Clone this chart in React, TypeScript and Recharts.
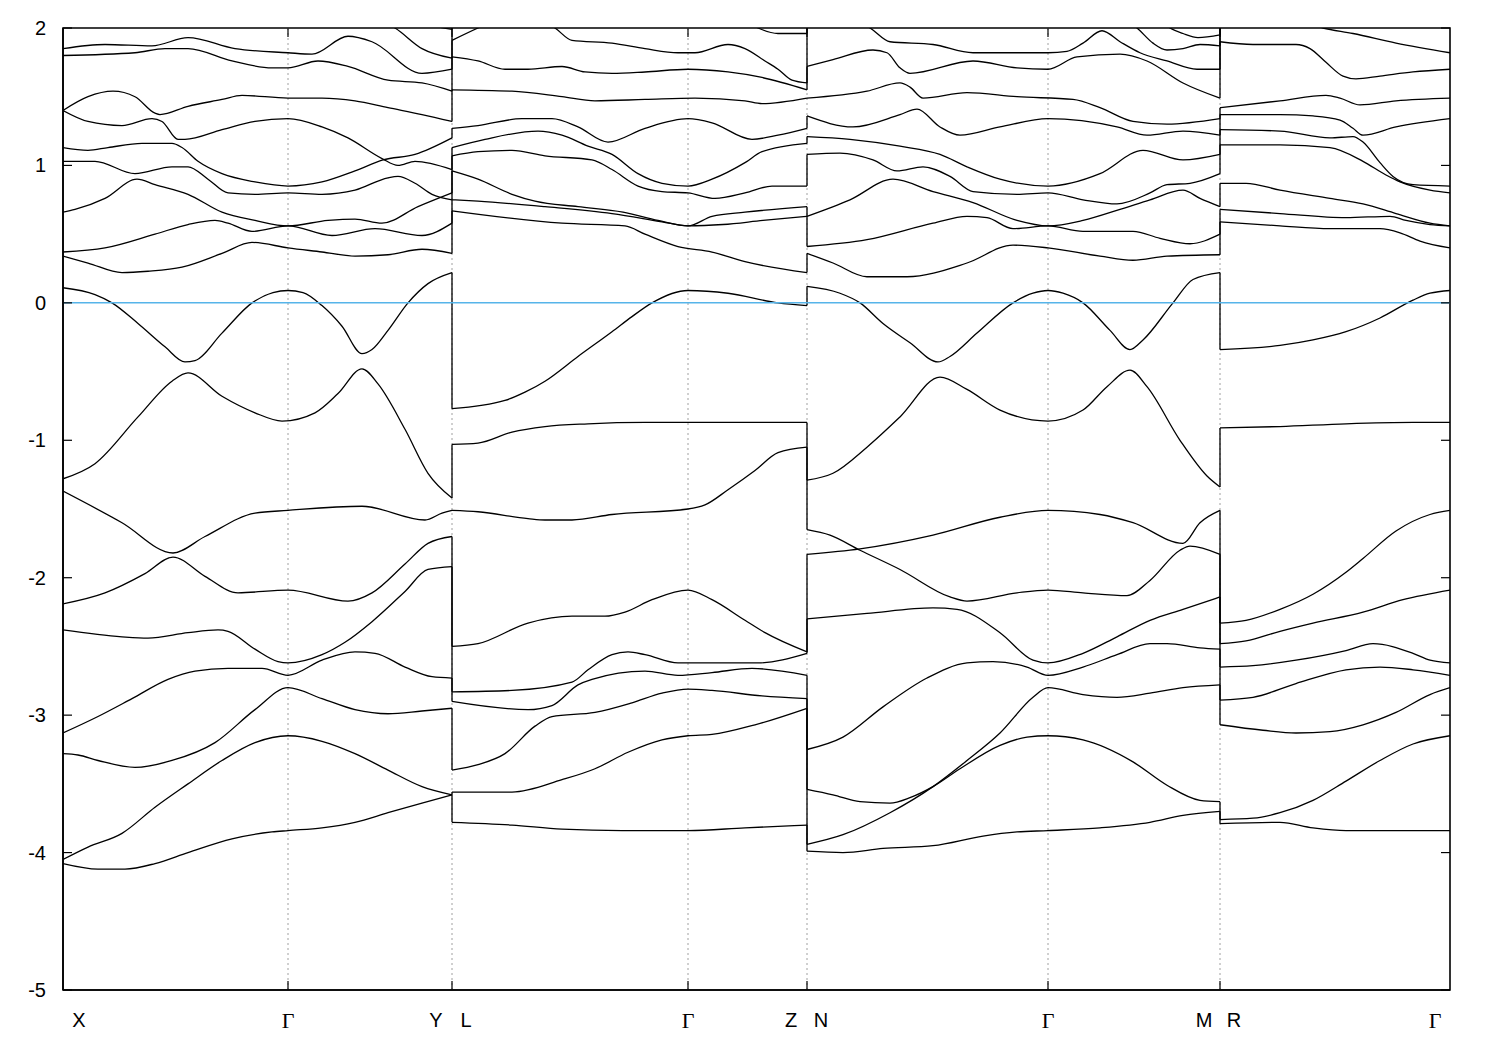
import { LineChart, Line, XAxis, YAxis, ReferenceLine, ReferenceArea } from "recharts";

type Pt = [number, number];

// k-path positions of the high-symmetry points and their labels ("a|b" = two labels at a break)
const K_TICKS = [0, 225, 389, 625, 744, 985, 1157, 1387];
const K_LABELS = ["X", "Γ", "Y|L", "Γ", "Z|N", "Γ", "M|R", "Γ"];
const E_TICKS = [2, 1, 0, -1, -2, -3, -4, -5];
const E_MIN = -5;
const E_MAX = 2;

// X - Γ - Y   (each band: [k, energy eV])
const BANDS_XGY: Pt[][] = [
  [[0, -4.08], [35, -4.12], [62, -4.12], [92, -4.08], [125, -4.0], [169, -3.9], [209, -3.85], [225, -3.84], [259, -3.82], [292, -3.78], [325, -3.71], [359, -3.64], [389, -3.58]],
  [[0, -4.05], [25, -3.96], [59, -3.86], [92, -3.67], [125, -3.5], [159, -3.33], [192, -3.2], [225, -3.15], [259, -3.19], [292, -3.28], [325, -3.4], [359, -3.52], [389, -3.58]],
  [[0, -3.28], [15, -3.29], [35, -3.33], [72, -3.38], [109, -3.33], [152, -3.2], [192, -2.96], [225, -2.8], [259, -2.88], [292, -2.96], [325, -2.99], [359, -2.97], [389, -2.95]],
  [[0, -3.13], [35, -3.01], [69, -2.88], [105, -2.74], [132, -2.68], [165, -2.66], [199, -2.66], [225, -2.71], [259, -2.6], [292, -2.54], [312, -2.55], [342, -2.65], [369, -2.72], [389, -2.73]],
  [[0, -2.38], [59, -2.43], [85, -2.44], [125, -2.4], [155, -2.38], [165, -2.39], [192, -2.52], [215, -2.61], [225, -2.62], [259, -2.56], [282, -2.47], [309, -2.32], [342, -2.1], [365, -1.94], [389, -1.92]],
  [[0, -2.19], [42, -2.11], [82, -1.97], [110, -1.85], [142, -1.99], [175, -2.11], [225, -2.09], [285, -2.17], [309, -2.11], [342, -1.9], [365, -1.75], [389, -1.7]],
  [[0, -1.37], [59, -1.6], [110, -1.82], [142, -1.7], [192, -1.53], [225, -1.51], [299, -1.48], [362, -1.58], [379, -1.53], [389, -1.51]],
  [[0, -1.28], [32, -1.17], [75, -0.83], [109, -0.57], [125, -0.51], [159, -0.68], [192, -0.8], [219, -0.86], [252, -0.8], [275, -0.66], [299, -0.48], [315, -0.59], [342, -0.92], [365, -1.24], [389, -1.42]],
  [[0, 0.11], [32, 0.06], [49, 0.0], [75, -0.15], [102, -0.32], [122, -0.43], [132, -0.42], [159, -0.22], [189, 0.0], [210, 0.075], [225, 0.09], [240, 0.075], [259, -0.02], [279, -0.17], [299, -0.37], [309, -0.34], [325, -0.2], [345, 0.0], [365, 0.14], [389, 0.22]],
  [[0, 0.34], [25, 0.29], [59, 0.22], [85, 0.23], [119, 0.26], [159, 0.36], [189, 0.44], [225, 0.4], [259, 0.37], [292, 0.34], [325, 0.35], [359, 0.39], [389, 0.36]],
  [[0, 0.37], [42, 0.4], [92, 0.5], [125, 0.57], [152, 0.6], [165, 0.58], [189, 0.52], [225, 0.56], [269, 0.49], [312, 0.54], [359, 0.49], [389, 0.58]],
  [[0, 0.66], [12, 0.68], [42, 0.76], [74, 0.9], [92, 0.86], [125, 0.79], [159, 0.66], [192, 0.6], [225, 0.56], [265, 0.6], [292, 0.61], [319, 0.58], [355, 0.7], [389, 0.8]],
  [[0, 1.03], [32, 1.03], [72, 0.94], [109, 0.99], [125, 0.99], [145, 0.9], [165, 0.8], [192, 0.79], [225, 0.8], [259, 0.79], [292, 0.82], [325, 0.91], [335, 0.92], [352, 0.87], [369, 0.79], [389, 0.75]],
  [[0, 1.13], [25, 1.11], [45, 1.13], [79, 1.16], [109, 1.16], [119, 1.13], [135, 1.03], [159, 0.94], [192, 0.88], [225, 0.85], [259, 0.88], [292, 0.96], [320, 1.04], [352, 1.08], [389, 1.2]],
  [[0, 1.4], [25, 1.32], [59, 1.29], [89, 1.34], [99, 1.32], [115, 1.19], [122, 1.19], [159, 1.26], [192, 1.32], [225, 1.34], [259, 1.28], [285, 1.2], [319, 1.05], [335, 1.0], [352, 1.03], [389, 0.97]],
  [[0, 1.4], [25, 1.5], [50, 1.54], [72, 1.5], [92, 1.38], [97, 1.37], [125, 1.43], [159, 1.48], [179, 1.51], [225, 1.49], [259, 1.49], [292, 1.47], [325, 1.42], [359, 1.37], [389, 1.32]],
  [[0, 1.8], [72, 1.82], [102, 1.85], [125, 1.85], [169, 1.76], [209, 1.71], [225, 1.71], [255, 1.76], [285, 1.72], [325, 1.62], [359, 1.6], [389, 1.54]],
  [[0, 1.85], [42, 1.88], [89, 1.87], [125, 1.93], [172, 1.85], [225, 1.82], [249, 1.81], [285, 1.94], [309, 1.9], [359, 1.67], [389, 1.7]],
  [[0, 2.3], [300, 2.1], [332, 2.0], [359, 1.85], [389, 1.78]],
  [[0, 2.4], [340, 2.15], [370, 2.02], [389, 1.99]],
];

// L - Γ - Z
const BANDS_LGZ: Pt[][] = [
  [[389, -3.78], [449, -3.8], [499, -3.83], [559, -3.84], [625, -3.84], [682, -3.82], [744, -3.8]],
  [[389, -3.56], [449, -3.56], [499, -3.47], [532, -3.39], [565, -3.27], [599, -3.18], [625, -3.15], [649, -3.14], [692, -3.07], [744, -2.95]],
  [[389, -3.4], [415, -3.36], [442, -3.28], [472, -3.08], [489, -3.01], [532, -2.98], [569, -2.91], [599, -2.84], [625, -2.81], [649, -2.82], [699, -2.86], [744, -2.88]],
  [[389, -2.9], [465, -2.96], [489, -2.93], [515, -2.78], [529, -2.74], [582, -2.68], [615, -2.71], [649, -2.69], [689, -2.66], [744, -2.71]],
  [[389, -2.83], [449, -2.82], [509, -2.76], [525, -2.67], [549, -2.56], [565, -2.54], [582, -2.56], [615, -2.62], [649, -2.62], [695, -2.62], [744, -2.55]],
  [[389, -2.5], [415, -2.48], [465, -2.33], [509, -2.28], [542, -2.28], [562, -2.25], [589, -2.16], [625, -2.09], [649, -2.16], [682, -2.31], [702, -2.4], [744, -2.54]],
  [[389, -1.51], [415, -1.52], [465, -1.57], [482, -1.58], [509, -1.58], [549, -1.54], [625, -1.5], [642, -1.47], [665, -1.36], [692, -1.22], [715, -1.09], [744, -1.05]],
  [[389, -1.03], [415, -1.02], [449, -0.94], [482, -0.9], [525, -0.88], [582, -0.87], [625, -0.87], [695, -0.87], [744, -0.87]],
  [[389, -0.77], [442, -0.71], [462, -0.65], [482, -0.57], [515, -0.39], [549, -0.21], [569, -0.1], [589, 0.0], [625, 0.09], [665, 0.07], [715, 0.0], [744, -0.02]],
  [[389, 0.67], [499, 0.58], [562, 0.56], [582, 0.5], [615, 0.41], [649, 0.37], [682, 0.3], [744, 0.22]],
  [[389, 0.75], [415, 0.74], [482, 0.7], [549, 0.65], [599, 0.59], [625, 0.56], [660, 0.57], [700, 0.6], [744, 0.63]],
  [[389, 0.96], [415, 0.9], [449, 0.79], [472, 0.74], [515, 0.7], [560, 0.66], [595, 0.6], [625, 0.56], [649, 0.63], [682, 0.66], [744, 0.7]],
  [[389, 1.07], [415, 1.1], [449, 1.11], [482, 1.07], [529, 1.04], [549, 0.97], [575, 0.85], [599, 0.81], [625, 0.8], [652, 0.76], [682, 0.8], [709, 0.85], [744, 0.85]],
  [[389, 1.13], [422, 1.19], [475, 1.25], [499, 1.22], [525, 1.14], [549, 1.08], [575, 0.94], [599, 0.87], [625, 0.85], [649, 0.9], [682, 1.02], [699, 1.1], [744, 1.16]],
  [[389, 1.27], [415, 1.29], [459, 1.34], [489, 1.34], [515, 1.28], [545, 1.17], [582, 1.27], [625, 1.34], [649, 1.31], [689, 1.19], [715, 1.22], [744, 1.27]],
  [[389, 1.55], [449, 1.54], [499, 1.5], [532, 1.47], [582, 1.48], [632, 1.49], [682, 1.47], [699, 1.45], [744, 1.49]],
  [[389, 1.79], [415, 1.76], [442, 1.7], [465, 1.7], [499, 1.72], [522, 1.68], [549, 1.67], [582, 1.68], [625, 1.7], [665, 1.68], [699, 1.64], [744, 1.55]],
  [[389, 1.91], [415, 2.0], [440, 2.08], [744, 2.3]],
  [[389, 2.3], [470, 2.08], [492, 2.0], [509, 1.91], [549, 1.89], [582, 1.85], [615, 1.82], [632, 1.82], [665, 1.88], [682, 1.85], [702, 1.76], [715, 1.7], [729, 1.62], [744, 1.6]],
  [[389, 2.4], [680, 2.06], [695, 2.0], [715, 1.96], [744, 1.96]],
];

// N - Γ - M
const BANDS_NGM: Pt[][] = [
  [[744, -3.99], [780, -4.0], [820, -3.97], [870, -3.95], [920, -3.88], [954, -3.85], [985, -3.84], [1037, -3.82], [1087, -3.78], [1120, -3.73], [1157, -3.7]],
  [[744, -3.94], [780, -3.87], [827, -3.71], [870, -3.52], [904, -3.33], [937, -3.13], [970, -2.87], [985, -2.8], [1020, -2.85], [1054, -2.87], [1087, -2.84], [1120, -2.8], [1157, -2.78]],
  [[744, -3.54], [770, -3.58], [797, -3.63], [827, -3.64], [847, -3.6], [870, -3.52], [897, -3.39], [937, -3.22], [964, -3.16], [985, -3.15], [1020, -3.18], [1070, -3.34], [1104, -3.51], [1137, -3.62], [1157, -3.63]],
  [[744, -3.25], [780, -3.16], [820, -2.94], [864, -2.73], [904, -2.62], [930, -2.61], [964, -2.65], [985, -2.71], [1020, -2.65], [1054, -2.56], [1087, -2.48], [1104, -2.48], [1137, -2.51], [1157, -2.52]],
  [[744, -2.3], [804, -2.26], [870, -2.22], [894, -2.23], [937, -2.4], [970, -2.6], [985, -2.62], [1020, -2.55], [1054, -2.43], [1087, -2.31], [1120, -2.23], [1157, -2.14]],
  [[744, -1.65], [767, -1.69], [797, -1.8], [837, -1.94], [887, -2.14], [904, -2.17], [954, -2.11], [985, -2.09], [1020, -2.11], [1064, -2.13], [1087, -2.02], [1117, -1.8], [1127, -1.77], [1157, -1.83]],
  [[744, -1.83], [797, -1.79], [870, -1.69], [937, -1.56], [985, -1.51], [1037, -1.54], [1070, -1.6], [1120, -1.75], [1137, -1.6], [1157, -1.51]],
  [[744, -1.29], [770, -1.24], [804, -1.05], [837, -0.83], [877, -0.54], [904, -0.63], [937, -0.78], [985, -0.86], [1020, -0.78], [1044, -0.61], [1067, -0.49], [1084, -0.61], [1117, -1.0], [1144, -1.26], [1157, -1.34]],
  [[744, 0.12], [777, 0.07], [797, 0.0], [820, -0.15], [847, -0.29], [875, -0.43], [887, -0.39], [914, -0.22], [950, 0.0], [970, 0.07], [985, 0.09], [1000, 0.07], [1020, 0.0], [1047, -0.2], [1067, -0.34], [1080, -0.27], [1110, 0.0], [1130, 0.17], [1157, 0.22]],
  [[744, 0.36], [770, 0.29], [804, 0.19], [844, 0.19], [904, 0.29], [950, 0.42], [985, 0.4], [1037, 0.34], [1070, 0.31], [1104, 0.34], [1157, 0.35]],
  [[744, 0.41], [804, 0.46], [870, 0.58], [904, 0.63], [924, 0.62], [950, 0.54], [985, 0.56], [1020, 0.52], [1070, 0.52], [1097, 0.47], [1127, 0.43], [1157, 0.5]],
  [[744, 0.63], [787, 0.75], [830, 0.9], [870, 0.81], [910, 0.73], [954, 0.6], [985, 0.56], [1020, 0.6], [1057, 0.68], [1087, 0.75], [1120, 0.82], [1137, 0.76], [1157, 0.7]],
  [[744, 1.08], [777, 1.09], [810, 1.04], [834, 0.96], [860, 0.99], [887, 0.92], [910, 0.81], [954, 0.79], [985, 0.8], [1020, 0.75], [1054, 0.72], [1087, 0.8], [1104, 0.86], [1127, 0.87], [1157, 0.94]],
  [[744, 1.21], [787, 1.19], [837, 1.14], [877, 1.08], [904, 0.99], [937, 0.9], [985, 0.85], [1037, 0.94], [1080, 1.11], [1120, 1.04], [1157, 1.08]],
  [[744, 1.36], [790, 1.28], [837, 1.37], [854, 1.41], [877, 1.28], [897, 1.22], [937, 1.28], [985, 1.34], [1054, 1.28], [1084, 1.22], [1120, 1.25], [1157, 1.22]],
  [[744, 1.49], [804, 1.54], [837, 1.6], [847, 1.57], [860, 1.49], [904, 1.53], [954, 1.5], [1010, 1.48], [1037, 1.42], [1070, 1.32], [1104, 1.3], [1157, 1.34]],
  [[744, 1.72], [770, 1.77], [810, 1.84], [824, 1.82], [837, 1.71], [847, 1.67], [910, 1.76], [954, 1.71], [985, 1.7], [1014, 1.79], [1057, 1.81], [1084, 1.76], [1120, 1.6], [1157, 1.49]],
  [[744, 2.2], [790, 2.06], [807, 2.0], [827, 1.9], [870, 1.88], [910, 1.82], [937, 1.82], [985, 1.82], [1004, 1.83], [1020, 1.89], [1039, 1.98], [1057, 1.9], [1077, 1.82], [1104, 1.76], [1134, 1.7], [1157, 1.7]],
  [[744, 2.3], [1050, 2.1], [1074, 2.0], [1090, 1.89], [1104, 1.84], [1120, 1.85], [1137, 1.88], [1157, 1.87]],
  [[744, 2.4], [1090, 2.1], [1107, 2.0], [1120, 1.96], [1135, 1.93], [1157, 1.95]],
];

// R - Γ
const BANDS_RG: Pt[][] = [
  [[1157, -3.79], [1217, -3.78], [1250, -3.82], [1283, -3.84], [1317, -3.84], [1387, -3.84]],
  [[1157, -3.76], [1190, -3.75], [1217, -3.71], [1250, -3.62], [1283, -3.48], [1317, -3.33], [1350, -3.21], [1387, -3.15]],
  [[1157, -3.07], [1200, -3.11], [1233, -3.13], [1267, -3.12], [1300, -3.07], [1333, -2.98], [1367, -2.85], [1387, -2.8]],
  [[1157, -2.89], [1190, -2.87], [1233, -2.77], [1283, -2.67], [1317, -2.65], [1350, -2.67], [1387, -2.71]],
  [[1157, -2.65], [1190, -2.64], [1233, -2.6], [1283, -2.53], [1310, -2.48], [1350, -2.55], [1367, -2.6], [1387, -2.62]],
  [[1157, -2.48], [1183, -2.46], [1217, -2.39], [1250, -2.33], [1300, -2.25], [1340, -2.16], [1387, -2.09]],
  [[1157, -2.33], [1183, -2.31], [1217, -2.23], [1250, -2.12], [1283, -1.96], [1300, -1.86], [1333, -1.66], [1367, -1.54], [1387, -1.51]],
  [[1157, -0.91], [1217, -0.9], [1283, -0.88], [1350, -0.87], [1387, -0.87]],
  [[1157, -0.34], [1217, -0.31], [1250, -0.27], [1283, -0.21], [1317, -0.11], [1350, 0.02], [1367, 0.07], [1387, 0.09]],
  [[1157, 0.59], [1217, 0.56], [1267, 0.54], [1317, 0.54], [1337, 0.51], [1357, 0.45], [1387, 0.4]],
  [[1157, 0.68], [1217, 0.65], [1283, 0.62], [1327, 0.63], [1343, 0.6], [1367, 0.57], [1387, 0.56]],
  [[1157, 0.87], [1183, 0.87], [1217, 0.82], [1267, 0.76], [1300, 0.72], [1333, 0.65], [1367, 0.58], [1387, 0.56]],
  [[1157, 1.15], [1217, 1.15], [1267, 1.13], [1300, 1.03], [1323, 0.93], [1337, 0.88], [1367, 0.82], [1387, 0.8]],
  [[1157, 1.26], [1217, 1.25], [1267, 1.2], [1290, 1.21], [1300, 1.17], [1317, 1.02], [1330, 0.92], [1350, 0.86], [1387, 0.85]],
  [[1157, 1.37], [1217, 1.37], [1250, 1.36], [1277, 1.33], [1290, 1.27], [1300, 1.22], [1333, 1.28], [1387, 1.34]],
  [[1157, 1.42], [1217, 1.47], [1263, 1.51], [1277, 1.49], [1297, 1.44], [1333, 1.47], [1387, 1.49]],
  [[1157, 1.9], [1190, 1.88], [1233, 1.88], [1247, 1.85], [1263, 1.75], [1280, 1.65], [1293, 1.63], [1317, 1.65], [1350, 1.68], [1387, 1.7]],
  [[1157, 2.2], [1240, 2.04], [1260, 2.0], [1290, 1.96], [1333, 1.89], [1387, 1.82]],
];

const SEGMENTS = [BANDS_XGY, BANDS_LGZ, BANDS_NGM, BANDS_RG];
const BREAKS = [389, 744, 1157];

const PLOT = { left: 63, right: 1450, top: 28, bottom: 990 };
const FONT = "'Liberation Sans', Arial, sans-serif";
const SERIF = "'Liberation Serif', 'Times New Roman', serif";

// gnuplot joins band n across a break: sorted end values -> sorted start values
function buildJumps() {
  const out: { k: number; e: number }[][] = [];
  BREAKS.forEach((k, i) => {
    const ends = SEGMENTS[i].map((b) => b[b.length - 1][1]).sort((a, b) => a - b);
    const starts = SEGMENTS[i + 1].map((b) => b[0][1]).sort((a, b) => a - b);
    const n = Math.max(ends.length, starts.length);
    for (let j = 0; j < n; j++) {
      const a = ends[j] ?? E_MAX + 0.5;
      const b = starts[j] ?? E_MAX + 0.5;
      if (a > E_MAX && b > E_MAX) continue;
      out.push([{ k, e: a }, { k, e: b }]);
    }
  });
  return out;
}

function YTick(props: any) {
  const { x, y, payload } = props;
  return (
    <g>
      <line x1={x} x2={x + 9} y1={y} y2={y} stroke="#000" strokeWidth={1.2} />
      <line x1={PLOT.right} x2={PLOT.right - 9} y1={y} y2={y} stroke="#000" strokeWidth={1.2} />
      <text x={x - 17} y={y} textAnchor="end" dominantBaseline="central" fontSize={20} fontFamily={FONT} fill="#000">
        {payload.value}
      </text>
    </g>
  );
}

function XTick(props: any) {
  const { x, y, payload } = props;
  const idx = K_TICKS.indexOf(payload.value);
  const parts = (K_LABELS[idx] ?? "").split("|");
  const inner = idx > 0 && idx < K_TICKS.length - 1;
  const ty = y + 30;
  const txt = (s: string, tx: number) => (
    <text
      key={s + tx}
      x={tx}
      y={ty}
      textAnchor="middle"
      dominantBaseline="central"
      fontSize={s === "Γ" ? 22 : 20}
      fontFamily={s === "Γ" ? SERIF : FONT}
      fill="#000"
    >
      {s}
    </text>
  );
  let labels;
  if (parts.length === 2) labels = [txt(parts[0], x - 16), txt(parts[1], x + 14)];
  else if (idx === 0) labels = [txt(parts[0], x + 16)];
  else if (idx === K_TICKS.length - 1) labels = [txt(parts[0], x - 15)];
  else labels = [txt(parts[0], x)];
  return (
    <g>
      {inner && <line x1={x} x2={x} y1={y} y2={y - 9} stroke="#000" strokeWidth={1.2} />}
      {inner && <line x1={x} x2={x} y1={PLOT.top} y2={PLOT.top + 9} stroke="#000" strokeWidth={1.2} />}
      {labels}
    </g>
  );
}

export default function App() {
  const jumps = buildJumps();
  return (
    <div style={{ position: "absolute", left: 0, top: 0, width: 1500, height: 1050, background: "#fff" }}>
      <LineChart width={1500} height={1050} margin={{ top: PLOT.top, right: 1500 - PLOT.right, bottom: 0, left: 0 }}>
        <XAxis
          dataKey="k"
          type="number"
          domain={[0, 1387]}
          ticks={K_TICKS}
          allowDataOverflow
          height={1050 - PLOT.bottom}
          tickSize={0}
          tickMargin={0}
          tickLine={false}
          axisLine={{ stroke: "#000", strokeWidth: 1.6 }}
          tick={XTick}
          interval={0}
        />
        <YAxis
          type="number"
          domain={[E_MIN, E_MAX]}
          ticks={E_TICKS}
          allowDataOverflow
          width={PLOT.left}
          tickSize={0}
          tickMargin={0}
          tickLine={false}
          axisLine={{ stroke: "#000", strokeWidth: 1.6 }}
          tick={YTick}
          interval={0}
        />
        {K_TICKS.slice(1, -1).map((k) => (
          <ReferenceLine key={"g" + k} x={k} stroke="#a0a0a0" strokeWidth={1} strokeDasharray="2 3" />
        ))}
        {SEGMENTS.flatMap((seg, si) =>
          seg.map((band, bi) => (
            <Line
              key={`b${si}-${bi}`}
              data={band.map(([k, e]) => ({ k, e }))}
              dataKey="e"
              type="monotone"
              stroke="#000"
              strokeWidth={1.3}
              dot={false}
              activeDot={false}
              isAnimationActive={false}
            />
          ))
        )}
        {jumps.map((seg, i) => (
          <Line
            key={"j" + i}
            data={seg}
            dataKey="e"
            type="linear"
            stroke="#000"
            strokeWidth={1.3}
            dot={false}
            activeDot={false}
            isAnimationActive={false}
          />
        ))}
        <ReferenceLine y={0} stroke="#56b4e9" strokeWidth={1.5} />
        <ReferenceArea x1={0} x2={1387} y1={E_MIN} y2={E_MAX} fill="none" stroke="#000" strokeWidth={1.6} fillOpacity={0} />
      </LineChart>
    </div>
  );
}
